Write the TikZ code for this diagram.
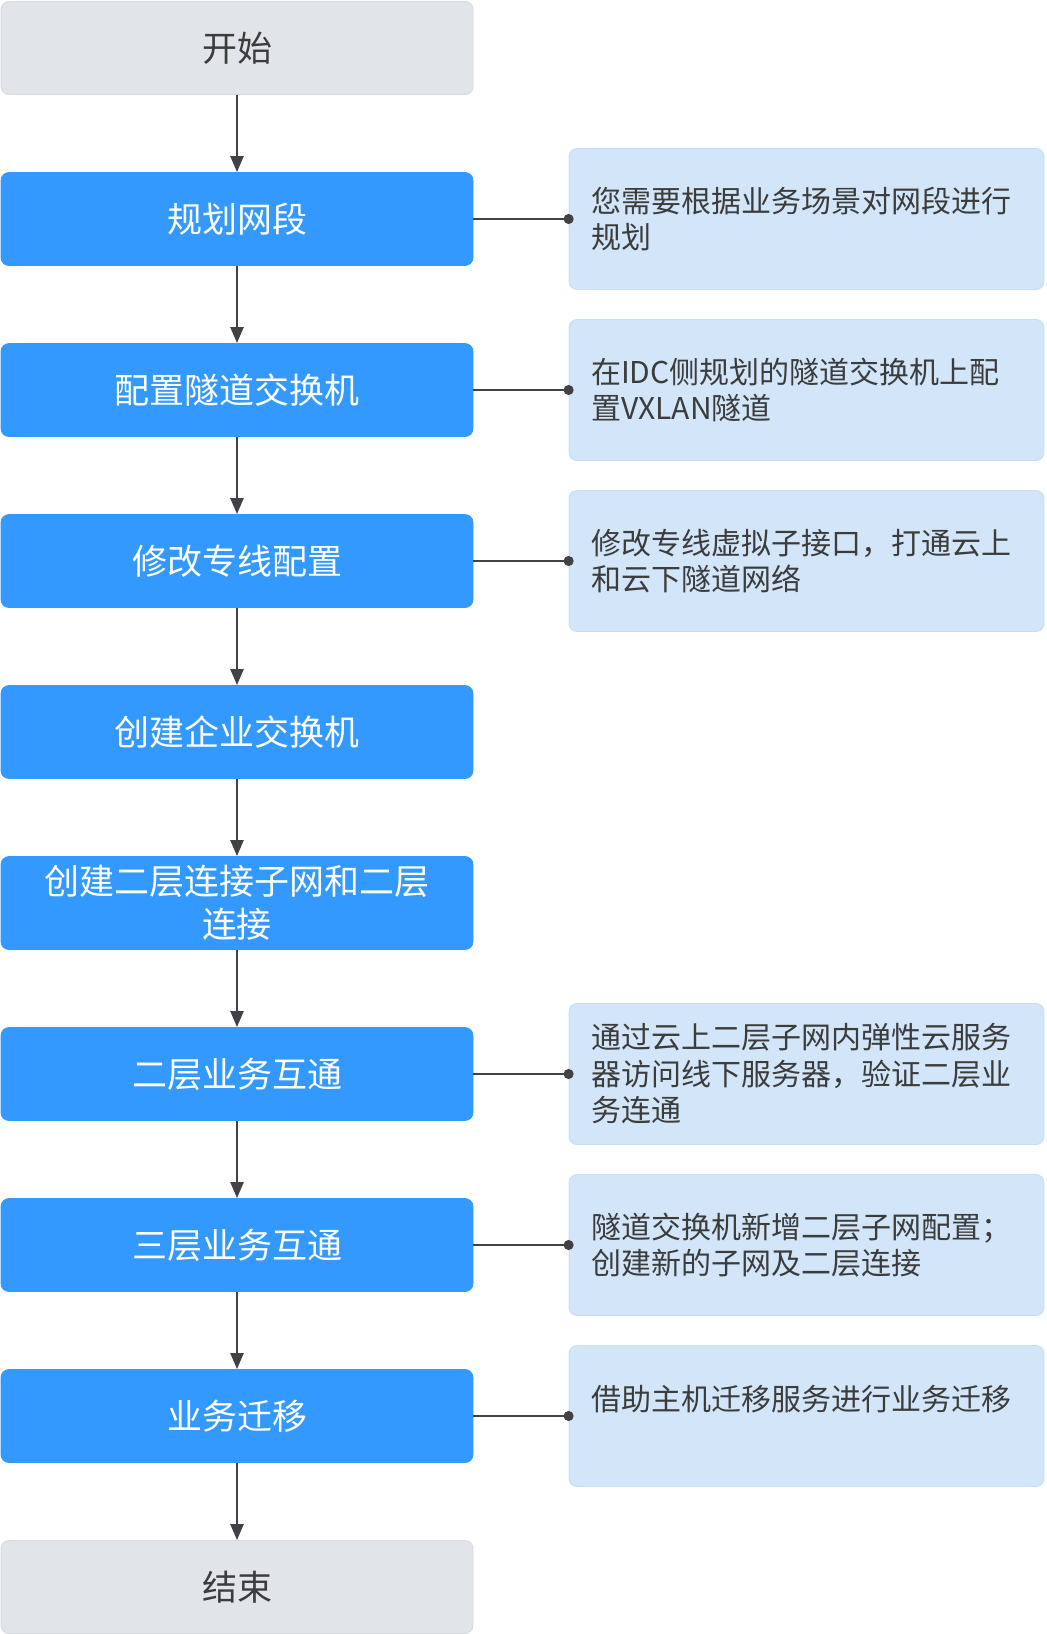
\documentclass[tikz,border=0pt]{standalone}
\usepackage{fontspec}
\setmainfont{Noto Sans CJK SC}
\usetikzlibrary{arrows.meta}
\definecolor{stepblue}{RGB}{51,153,255}
\definecolor{endgray}{RGB}{225,228,232}
\definecolor{endline}{RGB}{214,218,223}
\definecolor{noteblue}{RGB}{211,230,249}
\definecolor{noteline}{RGB}{198,221,244}
\definecolor{linkgray}{RGB}{64,66,70}
\definecolor{darktext}{RGB}{60,60,60}

\begin{document}
\begin{tikzpicture}[x=0.5pt, y=-0.5pt,
	endbox/.style={draw=endline, fill=endgray, rounded corners=4pt, minimum width=236pt, minimum height=46.5pt, text=darktext, font=\fontsize{17.5pt}{21.5pt}\selectfont},
	stepbox/.style={draw=stepblue, fill=stepblue, rounded corners=4pt, minimum width=236pt, minimum height=46.5pt, text=white, align=center, font=\fontsize{17.5pt}{21.5pt}\selectfont},
	notebox/.style={draw=noteline, fill=noteblue, rounded corners=4pt, minimum width=237.5pt, minimum height=70.5pt, text width=215.5pt, inner xsep=11pt, align=left, text=darktext, font=\fontsize{15pt}{18.25pt}\selectfont},
	flowarrow/.style={draw=linkgray, line width=1.2pt, -{Triangle[width=6.5pt,length=8pt]}},
	notelink/.style={draw=linkgray, line width=1pt, -{Circle[length=5pt]}, shorten >=-2.5pt}]
	%%%%% START %%%%%

	\useasboundingbox (0,0) rectangle (1046,1634);

	% main flow
	\node[endbox]  (start)   at (237,48)   {开始};
	\node[stepbox] (plan)    at (237,219)  {规划网段};
	\node[stepbox] (tunnel)  at (237,390)  {配置隧道交换机};
	\node[stepbox] (line)    at (237,561)  {修改专线配置};
	\node[stepbox] (ent)     at (237,732)  {创建企业交换机};
	\node[stepbox] (layer)   at (237,903)  {创建二层连接子网和二层\\连接};
	\node[stepbox] (ltwo)    at (237,1074) {二层业务互通};
	\node[stepbox] (lthree)  at (237,1245) {三层业务互通};
	\node[stepbox] (migrate) at (237,1416) {业务迁移};
	\node[endbox]  (finish)  at (237,1587) {结束};

	\draw[flowarrow] (start) -- (plan);
	\draw[flowarrow] (plan) -- (tunnel);
	\draw[flowarrow] (tunnel) -- (line);
	\draw[flowarrow] (line) -- (ent);
	\draw[flowarrow] (ent) -- (layer);
	\draw[flowarrow] (layer) -- (ltwo);
	\draw[flowarrow] (ltwo) -- (lthree);
	\draw[flowarrow] (lthree) -- (migrate);
	\draw[flowarrow] (migrate) -- (finish);

	% notes
	\node[notebox] (planNote)    at (806.5,219)  {您需要根据业务场景对网段进行\\规划};
	\node[notebox] (tunnelNote)  at (806.5,390)  {在IDC侧规划的隧道交换机上配\\置VXLAN隧道};
	\node[notebox] (lineNote)    at (806.5,561)  {修改专线虚拟子接口，打通云上\\和云下隧道网络};
	\node[notebox] (ltwoNote)    at (806.5,1074) {通过云上二层子网内弹性云服务\\器访问线下服务器，验证二层业\\务连通};
	\node[notebox] (lthreeNote)  at (806.5,1245) {隧道交换机新增二层子网配置；\\创建新的子网及二层连接};
	\node[notebox] (migrateNote) at (806.5,1416) {借助主机迁移服务进行业务迁移\\~};

	\draw[notelink] (plan) -- (planNote);
	\draw[notelink] (tunnel) -- (tunnelNote);
	\draw[notelink] (line) -- (lineNote);
	\draw[notelink] (ltwo) -- (ltwoNote);
	\draw[notelink] (lthree) -- (lthreeNote);
	\draw[notelink] (migrate) -- (migrateNote);

	%%%%% END %%%%%
\end{tikzpicture}
\end{document}
